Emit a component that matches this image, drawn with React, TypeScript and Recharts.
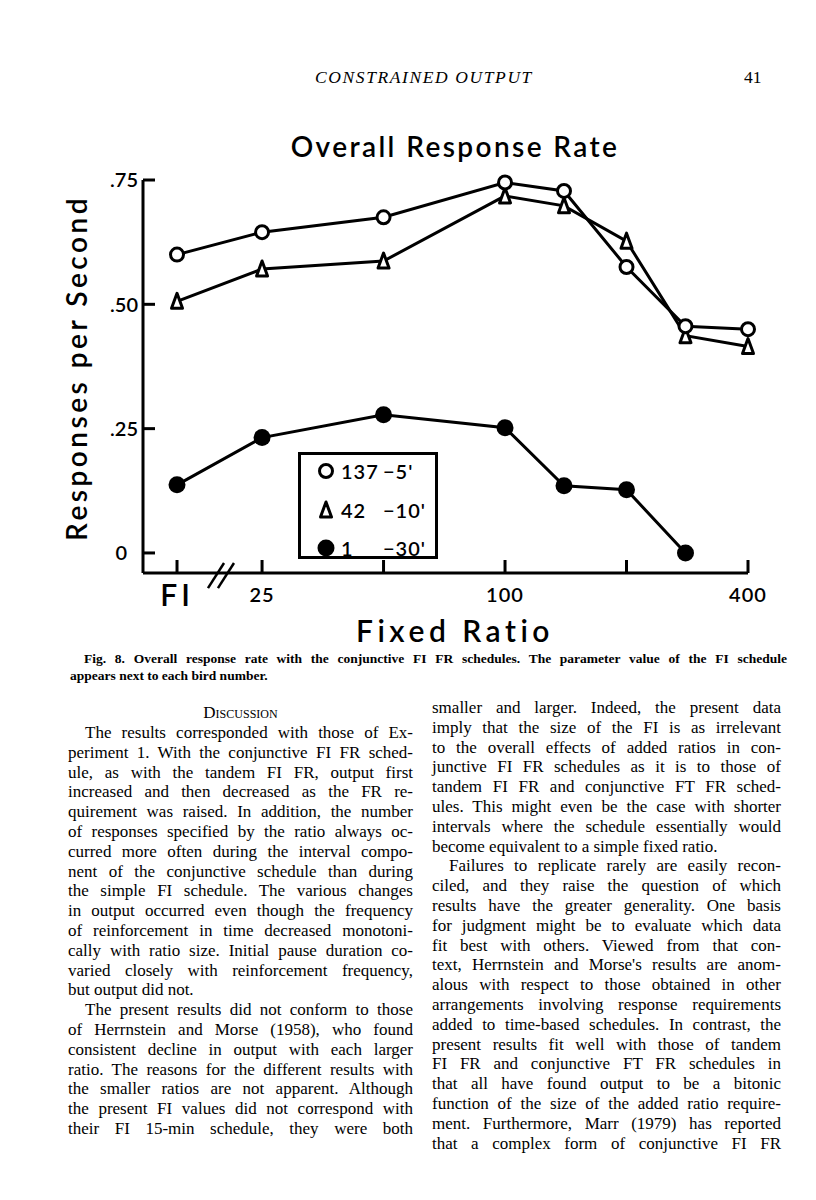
import React from 'react';
import { LineChart, Line, XAxis, YAxis, ReferenceLine } from 'recharts';

// Fixed ratio requirement for each session group (FI = simple FI baseline)
const ratioLabels = ['FI', '25', '50', '100', '140', '200', '280', '400'];
const ratioValues: (number | null)[] = [null, 25, 50, 100, 140, 200, 280, 400];

// responses per second
const bird137 = [0.6, 0.645, 0.675, 0.745, 0.728, 0.575, 0.456, 0.45];
const bird42 = [0.506, 0.571, 0.587, 0.718, 0.698, 0.627, 0.437, 0.415];
const bird1: (number | null)[] = [0.137, 0.232, 0.278, 0.252, 0.135, 0.127, 0.0, null];

const xTickRatios: (number | null)[] = [null, 25, 50, 100, 200, 400];
const xTickLabels = ['FI', '25', '', '100', '', '400'];
const yTicks = [0, 0.25, 0.5, 0.75];
const yTickLabels = ['0', '.25', '.50', '.75'];

// FI sits to the left of the axis break on the log2 ratio axis
const FI_POS = -0.7;
const toPos = (v: number | null) => (v == null ? FI_POS : Math.log2(v / 25));

const data = ratioLabels.map((r, i) => ({
  ratio: r,
  pos: toPos(ratioValues[i]),
  b137: bird137[i],
  b42: bird42[i],
  b1: bird1[i],
}));
const xTicks = xTickRatios.map(toPos);

const chartFont = 'Lato, "DejaVu Sans", sans-serif';
const serif = '"Liberation Serif", "Times New Roman", serif';

const OpenCircle = (p: any) =>
  p.cy == null ? <g key={p.key} /> : (
    <circle key={p.key} cx={p.cx} cy={p.cy} r={6.5} fill="#fff" stroke="#000" strokeWidth={3} />
  );

const OpenTriangle = (p: any) =>
  p.cy == null ? <g key={p.key} /> : (
    <path
      key={p.key}
      d={`M${p.cx},${p.cy - 8} L${p.cx + 5.5},${p.cy + 7} L${p.cx - 5.5},${p.cy + 7} Z`}
      fill="#fff"
      stroke="#000"
      strokeWidth={3}
      strokeLinejoin="round"
    />
  );

const FilledCircle = (p: any) =>
  p.cy == null || p.value == null ? <g key={p.key} /> : (
    <circle key={p.key} cx={p.cx} cy={p.cy} r={8.5} fill="#000" />
  );

const YTick = ({ x, y, payload }: any) => {
  const i = yTicks.indexOf(payload.value);
  return (
    <g>
      <line x1={x} y1={y} x2={x + 12} y2={y} stroke="#000" strokeWidth={3} />
      <text
        x={payload.value === 0 ? x - 16 : x - 5}
        y={y}
        dy="0.36em"
        textAnchor="end"
        fontFamily={chartFont}
        fontWeight={600}
        fontSize={20}
        fill="#000"
      >
        {yTickLabels[i]}
      </text>
    </g>
  );
};

const XTick = ({ x, y, index }: any) => {
  const label = xTickLabels[index];
  const isFI = label === 'FI';
  return (
    <g>
      <line x1={x} y1={y} x2={x} y2={y - 13} stroke="#000" strokeWidth={3} />
      <text
        x={x}
        y={isFI ? y + 33 : y + 29}
        textAnchor="middle"
        fontFamily={chartFont}
        fontWeight={600}
        fontSize={isFI ? 30 : 20}
        letterSpacing={isFI ? 4 : 1}
        fill="#000"
      >
        {label}
      </text>
    </g>
  );
};

const legendRows = [
  { marker: 'open-circle', bird: '137', fi: "5'" },
  { marker: 'open-triangle', bird: '42', fi: "10'" },
  { marker: 'filled-circle', bird: '1', fi: "30'" },
];

const LegendMarker = ({ kind }: { kind: string }) => (
  <svg width={22} height={22} style={{ position: 'absolute', left: 14, top: -11 }}>
    {kind === 'open-circle' && <circle cx={11} cy={11} r={6.5} fill="#fff" stroke="#000" strokeWidth={3} />}
    {kind === 'open-triangle' && (
      <path d="M11,3 L16.5,18 L5.5,18 Z" fill="#fff" stroke="#000" strokeWidth={3} strokeLinejoin="round" />
    )}
    {kind === 'filled-circle' && <circle cx={11} cy={11} r={8.5} fill="#000" />}
  </svg>
);

const leftLines = [
  { t: 'The results corresponded with those of Ex-', indent: true },
  { t: 'periment 1. With the conjunctive FI FR sched-' },
  { t: 'ule, as with the tandem FI FR, output first' },
  { t: 'increased and then decreased as the FR re-' },
  { t: 'quirement was raised. In addition, the number' },
  { t: 'of responses specified by the ratio always oc-' },
  { t: 'curred more often during the interval compo-' },
  { t: 'nent of the conjunctive schedule than during' },
  { t: 'the simple FI schedule. The various changes' },
  { t: 'in output occurred even though the frequency' },
  { t: 'of reinforcement in time decreased monotoni-' },
  { t: 'cally with ratio size. Initial pause duration co-' },
  { t: 'varied closely with reinforcement frequency,' },
  { t: 'but output did not.', last: true },
  { t: 'The present results did not conform to those', indent: true },
  { t: 'of Herrnstein and Morse (1958), who found' },
  { t: 'consistent decline in output with each larger' },
  { t: 'ratio. The reasons for the different results with' },
  { t: 'the smaller ratios are not apparent. Although' },
  { t: 'the present FI values did not correspond with' },
  { t: 'their FI 15-min schedule, they were both' },
];

const rightLines = [
  { t: 'smaller and larger. Indeed, the present data' },
  { t: 'imply that the size of the FI is as irrelevant' },
  { t: 'to the overall effects of added ratios in con-' },
  { t: 'junctive FI FR schedules as it is to those of' },
  { t: 'tandem FI FR and conjunctive FT FR sched-' },
  { t: 'ules. This might even be the case with shorter' },
  { t: 'intervals where the schedule essentially would' },
  { t: 'become equivalent to a simple fixed ratio.', last: true },
  { t: 'Failures to replicate rarely are easily recon-', indent: true },
  { t: 'ciled, and they raise the question of which' },
  { t: 'results have the greater generality. One basis' },
  { t: 'for judgment might be to evaluate which data' },
  { t: 'fit best with others. Viewed from that con-' },
  { t: "text, Herrnstein and Morse's results are anom-" },
  { t: 'alous with respect to those obtained in other' },
  { t: 'arrangements involving response requirements' },
  { t: 'added to time-based schedules. In contrast, the' },
  { t: 'present results fit well with those of tandem' },
  { t: 'FI FR and conjunctive FT FR schedules in' },
  { t: 'that all have found output to be a bitonic' },
  { t: 'function of the size of the added ratio require-' },
  { t: 'ment. Furthermore, Marr (1979) has reported' },
  { t: 'that a complex form of conjunctive FI FR' },
];

const LINE_H = 19.8;

const Column = ({ lines, left, top, width }: any) => (
  <div style={{ position: 'absolute', left, top, width, fontFamily: serif, fontSize: 17, color: '#000' }}>
    {lines.map((l: any, i: number) => (
      <div
        key={i}
        style={{
          height: LINE_H,
          lineHeight: `${LINE_H}px`,
          whiteSpace: 'nowrap',
          paddingLeft: l.indent ? 17 : 0,
          textAlign: 'justify',
          textAlignLast: l.last ? 'left' : 'justify',
        }}
      >
        {l.t}
      </div>
    ))}
  </div>
);

export default function App() {
  return (
    <div style={{ position: 'absolute', left: 0, top: 0, width: 816, height: 1200, background: '#fff', overflow: 'hidden' }}>
      {/* running head */}
      <div style={{ position: 'absolute', left: 224, top: 67, width: 400, textAlign: 'center', fontFamily: serif, fontStyle: 'italic', fontSize: 17.5, letterSpacing: 1.6 }}>
        CONSTRAINED OUTPUT
      </div>
      <div style={{ position: 'absolute', left: 744, top: 67, fontFamily: serif, fontSize: 17.5 }}>41</div>

      <div style={{ position: 'absolute', left: 205, top: 129, width: 500, textAlign: 'center', fontFamily: chartFont, fontWeight: 600, fontSize: 28, letterSpacing: 2.4 }}>
        Overall Response Rate
      </div>

      <div
        style={{
          position: 'absolute',
          left: 76 - 200,
          top: 368 - 18,
          width: 400,
          height: 36,
          lineHeight: '36px',
          textAlign: 'center',
          transform: 'rotate(-90deg)',
          fontFamily: chartFont,
          fontWeight: 600,
          fontSize: 28,
          letterSpacing: 3.5,
        }}
      >
        Responses per Second
      </div>

      <div style={{ position: 'absolute', left: 255, top: 612, width: 400, textAlign: 'center', fontFamily: chartFont, fontWeight: 600, fontSize: 30, letterSpacing: 4.5 }}>
        Fixed Ratio
      </div>

      <div style={{ position: 'absolute', left: 0, top: 0 }}>
        <LineChart width={816} height={650} data={data} margin={{ top: 180, left: 0, right: 68, bottom: 0 }}>
          <XAxis
            type="number"
            dataKey="pos"
            domain={[-0.98, 4]}
            ticks={xTicks}
            interval={0}
            height={77}
            tickSize={0}
            tickMargin={0}
            tickLine={false}
            tick={<XTick />}
            axisLine={{ stroke: '#000', strokeWidth: 3 }}
          />
          <YAxis
            type="number"
            domain={[-0.0403, 0.75]}
            ticks={yTicks}
            interval={0}
            width={143}
            tickSize={0}
            tickMargin={0}
            tickLine={false}
            tick={<YTick />}
            axisLine={{ stroke: '#000', strokeWidth: 3 }}
          />
          {/* axis break marks */}
          <ReferenceLine segment={[{ x: -0.445, y: -0.0706 }, { x: -0.313, y: -0.0202 }]} stroke="#000" strokeWidth={2.5} ifOverflow="visible" />
          <ReferenceLine segment={[{ x: -0.363, y: -0.0706 }, { x: -0.231, y: -0.0202 }]} stroke="#000" strokeWidth={2.5} ifOverflow="visible" />
          <Line dataKey="b1" stroke="#000" strokeWidth={3} dot={FilledCircle} isAnimationActive={false} />
          <Line dataKey="b42" stroke="#000" strokeWidth={3} dot={OpenTriangle} isAnimationActive={false} />
          <Line dataKey="b137" stroke="#000" strokeWidth={3} dot={OpenCircle} isAnimationActive={false} />
        </LineChart>
      </div>

      {/* legend box */}
      <div style={{ position: 'absolute', left: 298, top: 452, width: 140, height: 107, boxSizing: 'border-box', border: '3px solid #000', background: '#fff', fontFamily: chartFont, fontWeight: 600, fontSize: 20 }}>
        {legendRows.map((r, i) => (
          <div key={r.bird} style={{ position: 'absolute', left: 0, top: [16, 55, 93][i], width: '100%' }}>
            <LegendMarker kind={r.marker} />
            <span style={{ position: 'absolute', left: 40, top: -12, lineHeight: '24px', letterSpacing: 1 }}>{r.bird}</span>
            <span style={{ position: 'absolute', left: 82, top: -12, lineHeight: '24px', letterSpacing: 1 }}>−{r.fi}</span>
          </div>
        ))}
      </div>

      {/* caption */}
      <div style={{ position: 'absolute', left: 70, top: 650, width: 717, fontFamily: serif, fontWeight: 700, fontSize: 13.5, lineHeight: '17px' }}>
        <div style={{ whiteSpace: 'nowrap', paddingLeft: 14, textAlign: 'justify', textAlignLast: 'justify' }}>
          Fig. 8. Overall response rate with the conjunctive FI FR schedules. The parameter value of the FI schedule
        </div>
        <div>appears next to each bird number.</div>
      </div>

      <div style={{ position: 'absolute', left: 68, top: 703, width: 345, height: 20, lineHeight: '20px', textAlign: 'center', fontFamily: serif, fontSize: 17, fontVariant: 'small-caps' }}>
        Discussion
      </div>
      <Column lines={leftLines} left={68} top={723} width={345} />
      <Column lines={rightLines} left={432} top={698} width={349} />
    </div>
  );
}
